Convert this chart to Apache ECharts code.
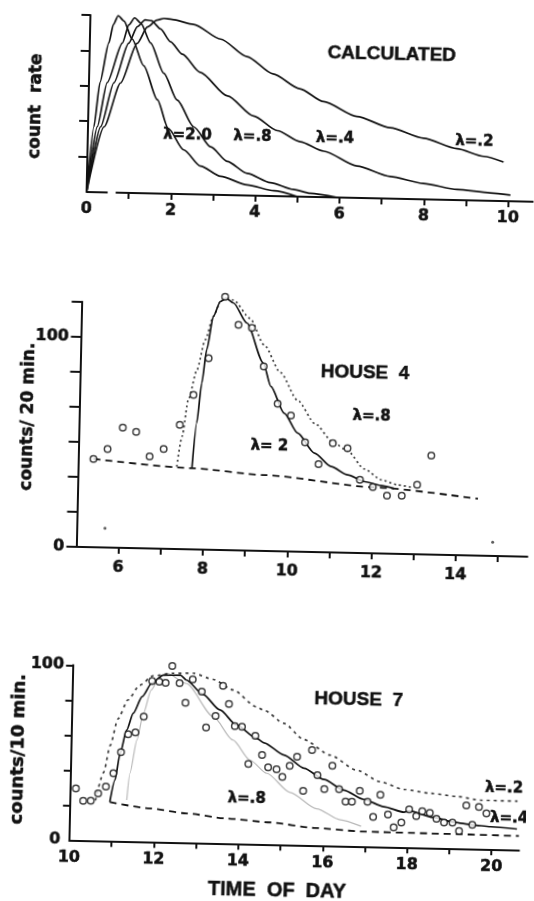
<!DOCTYPE html>
<html>
<head>
<meta charset="utf-8">
<script src="https://cdn.jsdelivr.net/npm/echarts@6/dist/echarts.min.js"></script>
<style>
  html, body { margin: 0; padding: 0; background: #fff; overflow: hidden; }
  /* the scanned figure sits slightly tilted on the page */
  #chart { width: 534px; height: 901px; transform: rotate(1.25deg); transform-origin: 267px 450px; }
</style>
</head>
<body>
<div id="chart"></div>
<script>
// ---- panel 1: calculated curves (relative count rate vs time) ----
const calcT20 = [0, 0.14, 0.26, 0.45, 0.55, 0.66, 0.8, 1.0, 1.29, 1.63, 1.9, 2.28, 2.69, 3.17, 3.8, 4.44, 5.0]
const calcV20 = [0, 0.37, 0.62, 0.845, 0.95, 1.0, 0.97, 0.87, 0.72, 0.53, 0.37, 0.25, 0.16, 0.105, 0.06, 0.03, 0]
const calcT08 = [0, 0.22, 0.43, 0.77, 0.92, 1.05, 1.2, 1.44, 1.77, 2.1, 2.51, 2.92, 3.32, 3.8, 4.35, 4.9, 5.3, 5.95]
const calcV08 = [0, 0.37, 0.62, 0.845, 0.95, 0.99, 0.96, 0.85, 0.68, 0.53, 0.38, 0.27, 0.19, 0.125, 0.076, 0.04, 0.02, 0]
const calcT04 = [0, 0.30, 0.59, 0.92, 1.12, 1.3, 1.45, 1.67, 1.91, 2.2, 2.63, 3.29, 3.92, 4.49, 5.04, 5.6, 6.4, 7.19, 7.98, 8.78, 9.57, 10.05]
const calcV04 = [0, 0.37, 0.62, 0.845, 0.94, 0.98, 0.975, 0.93, 0.86, 0.79, 0.69, 0.56, 0.45, 0.37, 0.31, 0.26, 0.18, 0.125, 0.09, 0.06, 0.045, 0.035]
const calcT02 = [0, 0.38, 0.75, 1.12, 1.36, 1.58, 1.75, 1.94, 2.45, 3.1, 3.73, 4.36, 5.0, 5.57, 6.37, 7.17, 7.96, 8.76, 9.4, 9.87]
const calcV02 = [0, 0.37, 0.62, 0.845, 0.94, 0.98, 0.99, 0.985, 0.96, 0.88, 0.785, 0.69, 0.61, 0.54, 0.46, 0.40, 0.345, 0.29, 0.25, 0.22]
const calcXTicks = [1, 2, 3, 4, 5, 6, 7, 8, 9, 10]
const calcXLabels = [0, 2, 4, 6, 8, 10]
const calcYTicks = [0.2, 0.4, 0.6, 0.8, 1.0]
// x axis is drawn with a small break near the origin
const calcAxisT = [0, 0.5, 0.6, 0.69, 10.6]
const calcAxisV = [0, 0, '-', 0, 0]

// ---- panel 2: house 4, counts / 20 min ----
const h4Time = [5.36, 5.69, 6.04, 6.36, 6.69, 7.02, 7.39, 7.70, 8.04, 8.40, 8.73, 9.05, 9.35, 9.70, 10.02, 10.37, 10.70, 11.03, 11.38, 11.69, 12.00, 12.34, 12.69, 13.05, 13.37]
const h4Count = [42.0, 46.8, 57.2, 55.3, 43.7, 47.5, 59.1, 73.5, 91.1, 120.5, 107.3, 105.9, 87.7, 70.1, 64.7, 52.1, 41.8, 52.0, 49.7, 34.8, 31.5, 27.6, 27.7, 33.1, 47.1]
const h4SpeckTime = [5.67, 14.87]
const h4SpeckCount = [9.2, 6.5]
const h4BaseTime = [5.36, 7.70, 9.41, 12.04, 14.5]
const h4BaseCount = [42.0, 38.6, 36.1, 31.4, 27.0]
const h4FitTime = [7.70, 7.79, 7.89, 7.99, 8.13, 8.29, 8.42, 8.60, 8.93, 9.34, 9.53, 9.86, 10.19, 10.6, 11.0, 11.4, 11.8, 12.2, 12.51]
const h4FitCount = [38.6, 60.1, 79.2, 95.1, 111, 118.2, 119.8, 117.6, 108.2, 89.3, 78.3, 65.7, 56.4, 47, 40.8, 37, 34, 32.3, 31.0]
const h4DotTime = [7.34, 7.45, 7.58, 7.77, 7.95, 8.13, 8.29, 8.42, 8.6, 9.0, 9.35, 9.75, 10.17, 10.6, 11.03, 11.38, 11.79, 12.2, 12.59, 12.91]
const h4DotCount = [39.2, 53.6, 71.1, 85.5, 99.8, 111, 118, 120, 119, 110.5, 98, 85, 72, 61, 52.5, 48.5, 40, 35, 32.8, 31.8]
const h4XTicks = [6, 7, 8, 9, 10, 11, 12, 13, 14, 15]
const h4XLabels = [6, 8, 10, 12, 14]
const h4YTicks = [0, 16.667, 33.333, 50, 66.667, 83.333, 100, 116.667]
const h4YLabels = [0, 100]

// ---- panel 3: house 7, counts / 10 min ----
const h7Time = [10.13, 10.31, 10.49, 10.66, 10.84, 11.01, 11.18, 11.34, 11.51, 11.70, 11.88, 12.05, 12.20, 12.35, 12.53,
  12.68, 12.84, 13.06, 13.18, 13.40, 13.56, 13.71, 13.86, 14.03, 14.20, 14.35, 14.52, 14.67, 14.87, 15.01,
  15.18, 15.35, 15.51, 15.70, 15.84, 16.01, 16.19, 16.36, 16.52, 16.67, 16.85, 17.04, 17.18, 17.34, 17.53,
  17.67, 17.85, 18.03, 18.20, 18.34, 18.52, 18.68, 18.86, 19.06, 19.22, 19.38, 19.53, 19.68, 19.86]
const h7Count = [29.6, 22.6, 22.7, 27.1, 31.0, 38.7, 50.9, 61.2, 62.3, 71.4, 91.9, 91.6, 91.1, 100.7, 91.0,
  79.9, 93.3, 86.4, 66.1, 72.7, 90.1, 79.7, 67.2, 66.9, 45.7, 61.9, 51.0, 44.0, 43.0, 38.8,
  45.2, 50.5, 31.1, 54.5, 40.2, 32.3, 45.7, 32.5, 25.4, 25.5, 31.8, 25.6, 17.1, 29.8, 18.6,
  11.3, 14.2, 21.8, 18.0, 20.9, 20.0, 16.7, 14.7, 14.8, 10.0, 24.8, 13.7, 24.1, 20.5]
const h7BaseTime = [10.94, 11.90, 12.76, 13.71, 14.74, 15.79, 16.97, 18.54, 20.64]
const h7BaseCount = [22.2, 19.1, 16.7, 14.3, 12.6, 10.0, 8.5, 8.3, 7.9]
const h7FitTime = [10.94, 11.05, 11.16, 11.30, 11.45, 11.65, 11.87, 12.14, 12.55, 12.69, 13.08, 13.50, 13.89, 14.38, 14.56,
  15.04, 15.52, 16.0, 16.47, 16.95, 17.43, 17.91, 18.03, 18.6, 19.1, 19.53, 19.96, 20.59]
const h7FitCount = [22.2, 34.8, 50.2, 63.5, 73.2, 82.8, 90.6, 95.4, 95.5, 92.9, 85.1, 76.2, 68, 60.5, 58,
  51.3, 44.0, 37.8, 32.0, 26.9, 23.0, 20.1, 21.0, 17.5, 15.0, 13.7, 12.9, 11.9]
const h7L02Time = [10.6, 10.78, 10.92, 11.09, 11.32, 11.59, 11.90, 12.38, 12.85, 13.32, 13.80, 14.36, 14.55, 15.02, 15.49,
  16.13, 16.76, 17.33, 17.89, 18.54, 19.17, 19.72, 20.59]
const h7L02Count = [23, 39.1, 54.5, 69.8, 80.9, 89.4, 94.9, 96.6, 96.9, 93.6, 87.8, 78.5, 76.5, 69.4, 60.5,
  51.8, 43.6, 37.2, 33.1, 31.2, 29.7, 27.9, 27.8]
const h7L08Time = [11.34, 11.40, 11.55, 11.69, 11.86, 12.06, 12.22, 12.69, 13.35, 13.82, 14.24, 14.64, 15.2, 15.84, 16.4, 16.9]
const h7L08Count = [23.6, 38.9, 58, 73.3, 86.7, 94.5, 96.6, 90.9, 72.2, 59.2, 47.9, 40.6, 30, 21, 15, 11.5]
const h7XTicks = [11, 12, 13, 14, 15, 16, 17, 18, 19, 20]
const h7XLabels = [10, 12, 14, 16, 18, 20]
const h7YTicks = [20, 40, 60, 80, 100]
const h7YLabels = [0, 100]

const ink = '#121212'
// heavy, slightly inked look of the printed labels
const numFont = {
  color: ink, fontFamily: 'DejaVu Sans', fontWeight: 'bold', fontSize: 16,
  textBorderColor: ink, textBorderWidth: 0.5
}

function zip(a, b) {
  return a.map((x, i) => [x, b[i]])
}

function curve(grid, t, v, style) {
  return {
    type: 'line',
    xAxisIndex: grid,
    yAxisIndex: grid,
    data: zip(t, v),
    symbol: 'none',
    smooth: 0.25,
    smoothMonotone: 'x',
    clip: false,
    silent: true,
    lineStyle: Object.assign({ color: ink, width: 1.6 }, style)
  }
}

function circles(grid, t, v) {
  return {
    type: 'scatter',
    xAxisIndex: grid,
    yAxisIndex: grid,
    data: zip(t, v),
    symbol: 'circle',
    symbolSize: 6.5,
    clip: false,
    silent: true,
    z: 5,
    itemStyle: { color: '#fff', borderColor: ink, borderWidth: 1.5 }
  }
}

function xAxis(grid, min, max, ticks, labels, margin, showLine) {
  return {
    type: 'value',
    gridIndex: grid,
    min: min,
    max: max,
    axisLine: { show: showLine, onZero: false, lineStyle: { color: ink, width: 2 } },
    axisTick: { show: true, length: 6, customValues: ticks, lineStyle: { color: ink, width: 2 } },
    axisLabel: Object.assign({ customValues: labels, margin: margin }, numFont),
    splitLine: { show: false }
  }
}

function yAxis(grid, max, ticks, labels, tickLen, margin) {
  return {
    type: 'value',
    gridIndex: grid,
    min: 0,
    max: max,
    axisLine: { show: true, onZero: false, lineStyle: { color: ink, width: 2 } },
    axisTick: { show: true, length: tickLen, customValues: ticks, lineStyle: { color: ink, width: 2 } },
    axisLabel: labels
      ? Object.assign({ customValues: labels, margin: margin }, numFont)
      : { show: false },
    splitLine: { show: false }
  }
}

function note(text, x, y, font, rot) {
  return {
    type: 'text',
    x: x,
    y: y,
    rotation: rot || 0,
    silent: true,
    style: {
      text: text, fill: ink, font: font, align: 'center', verticalAlign: 'middle',
      stroke: ink, lineWidth: 0.5
    }
  }
}

const titleFont = 'bold 19px "Liberation Sans", Arial, sans-serif'
const lamFont = 'bold 15px "DejaVu Sans", sans-serif'
const nameFont = 'bold 17px "DejaVu Sans", sans-serif'

const chart = echarts.init(document.getElementById('chart'), null, { renderer: 'canvas' })

chart.setOption({
  animation: false,
  backgroundColor: '#fff',
  grid: [
    { left: 81, top: 19, width: 447, height: 177 },
    { left: 78.5, top: 305.7, width: 451.1, height: 245.3 },
    { left: 77.8, top: 669.3, width: 449.9, height: 175 }
  ],
  xAxis: [
    xAxis(0, 0, 10.6, calcXTicks, calcXLabels, 9, false),
    xAxis(1, 5, 15.7, h4XTicks, h4XLabels, 12, true),
    xAxis(2, 10, 20.65, h7XTicks, h7XLabels, 10, true)
  ],
  yAxis: [
    yAxis(0, 1, calcYTicks, null, 9, 0),
    yAxis(1, 116.667, h4YTicks, h4YLabels, 10, 12),
    yAxis(2, 100, h7YTicks, h7YLabels, 7, 9)
  ],
  series: [
    // panel 1
    curve(0, calcAxisT, calcAxisV, { width: 2 }),
    curve(0, calcT20, calcV20, { width: 1.7 }),
    curve(0, calcT08, calcV08, { width: 1.7 }),
    curve(0, calcT04, calcV04, { width: 1.7 }),
    curve(0, calcT02, calcV02, { width: 1.7 }),
    // panel 2
    curve(1, h4BaseTime, h4BaseCount, { width: 1.8, type: [7, 5] }),
    curve(1, h4DotTime, h4DotCount, { width: 1.7, type: [2, 3], color: '#3c3c3c' }),
    curve(1, h4FitTime, h4FitCount, { width: 1.7 }),
    circles(1, h4Time, h4Count),
    {
      type: 'scatter', xAxisIndex: 1, yAxisIndex: 1, data: zip(h4SpeckTime, h4SpeckCount),
      symbol: 'circle', symbolSize: 3, silent: true, itemStyle: { color: '#333' }
    },
    // panel 3
    curve(2, h7BaseTime, h7BaseCount, { width: 1.8, type: [7, 5] }),
    curve(2, h7L08Time, h7L08Count, { width: 1.2, color: '#b8b8b8' }),
    curve(2, h7L02Time, h7L02Count, { width: 1.7, type: [3, 4], color: '#3c3c3c' }),
    curve(2, h7FitTime, h7FitCount, { width: 1.7 }),
    circles(2, h7Time, h7Count)
  ],
  graphic: [
    note('count  rate', 28.3, 111.4, nameFont, Math.PI / 2),
    note('CALCULATED', 383.1, 51.6, titleFont),
    note('λ=2.0', 180.6, 136.7, lamFont),
    note('λ=.8', 245.7, 137, lamFont),
    note('λ=.4', 328.2, 136.8, lamFont),
    note('λ=.2', 467.5, 137.2, lamFont),

    note('counts/ 20 min.', 27.8, 421.9, nameFont, Math.PI / 2),
    note('HOUSE  4', 363.3, 371.2, titleFont),
    note('λ=.8', 370.8, 414.4, lamFont),
    note('λ= 2', 269.4, 446.6, lamFont),

    note('counts/10 min.', 25.5, 754.4, 'bold 18px "DejaVu Sans", sans-serif', Math.PI / 2),
    note('HOUSE  7', 364.1, 697.3, titleFont),
    note('λ=.8', 254.3, 798.7, lamFont),
    note('λ=.2', 511.4, 783.1, lamFont),
    note('λ=.4', 517, 812.9, lamFont),
    note('TIME  OF  DAY', 286.6, 890.8, 'bold 20px "Liberation Sans", Arial, sans-serif')
  ]
})

window.addEventListener('resize', () => {
  chart && chart.resize()
})
</script>
</body>
</html>
